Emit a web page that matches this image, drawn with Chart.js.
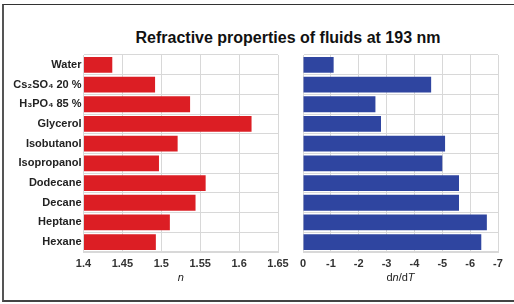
<!DOCTYPE html>
<html>
<head>
<meta charset="utf-8">
<script src="https://cdn.jsdelivr.net/npm/chart.js@4.4.1/dist/chart.umd.min.js"></script>
<style>
  html, body { margin: 0; padding: 0; background: #fff; }
  #wrap { position: relative; width: 514px; height: 304px; overflow: hidden; }
  #frame { position: absolute; left: 2px; top: 4px; width: 520px; height: 295px;
           border-left: 2px solid #555; border-top: 1px solid #333; border-bottom: 2px solid #444; }
  #title { position: absolute; left: 0; top: 29px; width: 576px; text-align: center;
           font: bold 16px "Liberation Sans", Arial, sans-serif; color: #111; }
  canvas { position: absolute; left: 0; top: 0; }
</style>
</head>
<body>
<div id="wrap">
  <div id="frame"></div>
  <div id="title">Refractive properties of fluids at 193 nm</div>
  <canvas id="nChart" width="514" height="304"></canvas>
  <canvas id="dChart" width="514" height="304"></canvas>
</div>
<script>
// fluids, top to bottom
const fluids = ['Water', 'Cs\u2082SO\u2084 20 %', 'H\u2083PO\u2084 85 %', 'Glycerol', 'Isobutanol',
  'Isopropanol', 'Dodecane', 'Decane', 'Heptane', 'Hexane'];
// refractive index n
const indexN = [1.437, 1.492, 1.537, 1.616, 1.521, 1.497, 1.557, 1.544, 1.511, 1.493];
// dn/dT (1e-4 /K)
const dndT = [-1.1, -4.6, -2.6, -2.8, -5.1, -5.0, -5.6, -5.6, -6.6, -6.4];
const nTicks = [1.4, 1.45, 1.5, 1.55, 1.6, 1.65];

const font = { family: '"Liberation Sans", Arial, sans-serif', size: 11, weight: 'bold' };
const gridColor = '#d8d8d8';

// axis title with italic n and T
const dndtTitle = {
  id: 'dndtTitle',
  afterDraw(chart) {
    const ctx = chart.ctx;
    const xs = chart.scales.x;
    const parts = [['d', ''], ['n', 'italic '], ['/d', ''], ['T', 'italic ']];
    ctx.save();
    ctx.fillStyle = '#222';
    ctx.textBaseline = 'middle';
    let w = 0;
    parts.forEach(p => { ctx.font = p[1] + '11px "Liberation Sans", Arial, sans-serif'; w += ctx.measureText(p[0]).width; });
    let x = (xs.left + xs.right) / 2 - w / 2;
    parts.forEach(p => {
      ctx.font = p[1] + '11px "Liberation Sans", Arial, sans-serif';
      ctx.fillText(p[0], x, xs.bottom - 7);
      x += ctx.measureText(p[0]).width;
    });
    ctx.restore();
  }
};

new Chart(document.getElementById('nChart'), {
  type: 'bar',
  data: {
    labels: fluids,
    datasets: [{ data: indexN, base: 1.4, backgroundColor: '#dc1e24', barPercentage: 0.8, categoryPercentage: 1 }]
  },
  options: {
    indexAxis: 'y',
    responsive: false,
    animation: false,
    layout: { padding: { left: 0, right: 236, top: 55, bottom: 19 } },
    plugins: { legend: { display: false }, tooltip: { enabled: false } },
    scales: {
      x: {
        min: 1.4, max: 1.65,
        afterBuildTicks: s => { s.ticks = nTicks.map(v => ({ value: v })); },
        afterFit: s => { s.height = 33; },
        grid: { color: gridColor, drawTicks: false },
        border: { color: gridColor },
        ticks: { font, color: '#333', padding: 5, callback: v => String(+v.toFixed(2)) },
        title: { display: true, text: 'n', font: { family: font.family, size: 11, style: 'italic' }, color: '#222', padding: 0 }
      },
      y: {
        afterFit: s => { s.width = 83.5; },
        grid: { color: gridColor, drawTicks: false },
        border: { color: gridColor },
        ticks: { font, color: '#222', padding: 2 }
      }
    }
  }
});

new Chart(document.getElementById('dChart'), {
  type: 'bar',
  data: {
    labels: fluids,
    datasets: [{ data: dndT, backgroundColor: '#2f45a0', barPercentage: 0.8, categoryPercentage: 1 }]
  },
  options: {
    indexAxis: 'y',
    responsive: false,
    animation: false,
    layout: { padding: { left: 303, right: 16, top: 55, bottom: 19 } },
    plugins: { legend: { display: false }, tooltip: { enabled: false } },
    scales: {
      x: {
        min: -7, max: 0, reverse: true,
        afterFit: s => { s.height = 33; },
        grid: { color: gridColor, drawTicks: false },
        border: { color: gridColor },
        ticks: { font, color: '#333', padding: 5, stepSize: 1 }
      },
      y: {
        afterFit: s => { s.width = 0; },
        grid: { color: gridColor, drawTicks: false },
        border: { color: gridColor },
        ticks: { display: false }
      }
    }
  },
  plugins: [dndtTitle]
});
</script>
</body>
</html>
